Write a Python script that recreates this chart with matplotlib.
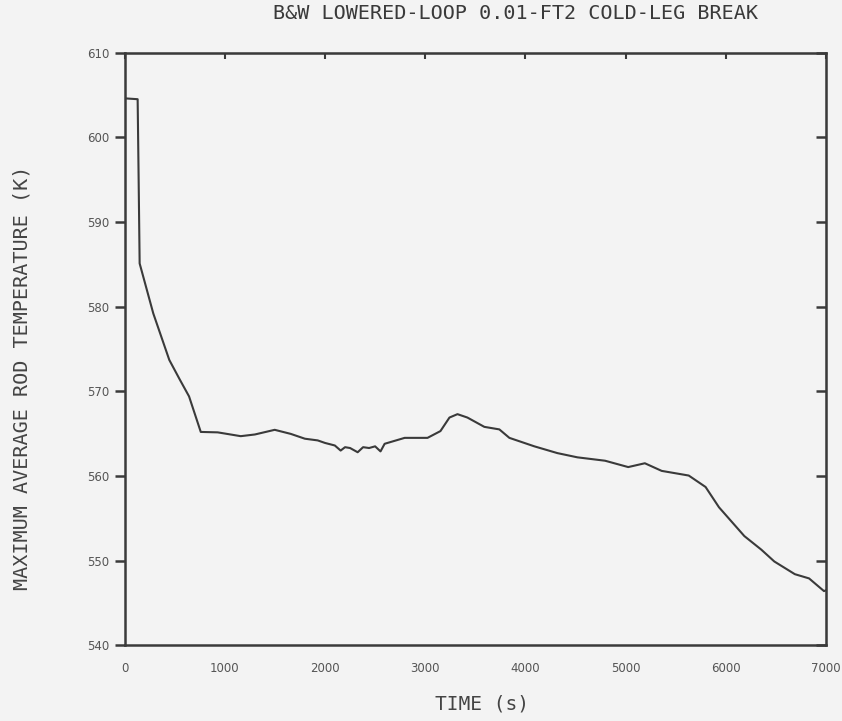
import matplotlib.pyplot as plt

# values
time_s = [0, 130, 140, 150, 286, 446, 550, 643, 760, 929, 1159, 1300, 1498,
          1658, 1799, 1927, 2000, 2098, 2156, 2200, 2250, 2326, 2380, 2440,
          2500, 2554, 2595, 2795, 3023, 3152, 3242, 3322, 3421, 3590, 3740,
          3840, 4089, 4319, 4519, 4795, 5026, 5192, 5360, 5630, 5798, 5932,
          6185, 6354, 6484, 6689, 6831, 6980, 7000]
temp_k = [604.6, 604.5, 595.0, 585.1, 579.2, 573.7, 571.4, 569.4, 565.2,
          565.15, 564.7, 564.9, 565.45, 564.97, 564.4, 564.2, 563.9, 563.6,
          563.0, 563.4, 563.3, 562.8, 563.4, 563.3, 563.5, 562.9, 563.8,
          564.5, 564.5, 565.3, 566.9, 567.3, 566.9, 565.8, 565.5, 564.5,
          563.5, 562.7, 562.2, 561.8, 561.05, 561.5, 560.6, 560.05, 558.7,
          556.3, 552.9, 551.3, 549.9, 548.4, 547.9, 546.4, 546.5]

x_ticks = [0, 1000, 2000, 3000, 4000, 5000, 6000, 7000]
x_labels = ['0', '1000', '2000', '3000', '4000', '5000', '6000', '7000']
y_ticks = [540, 550, 560, 570, 580, 590, 600, 610]

ink = '#3a3a3a'
paper = '#f3f3f3'
mono = 'DejaVu Sans Mono'

fig = plt.figure(figsize=(8.42, 7.21), dpi=100, facecolor=paper)
ax = fig.add_axes([0.148, 0.105, 0.833, 0.822], facecolor=paper)

ax.plot(time_s, temp_k, color=ink, lw=1.5)

ax.set_xlim(0, 7000)
ax.set_ylim(540, 610)

for s in ax.spines.values():
    s.set_color(ink)
    s.set_linewidth(1.8)

ax.set_xticks(x_ticks)
ax.set_xticklabels(x_labels)
ax.set_yticks(y_ticks)
ax.tick_params(axis='x', length=0, pad=12, labelsize=8.5, labelcolor='#555555')
ax.tick_params(axis='y', direction='out', length=7, width=1.8,
               color=ink, labelsize=8.5, labelcolor='#555555', pad=4)

# top axis: small inward ticks, no labels
ax_t = ax.secondary_xaxis('top')
ax_t.set_xticks(x_ticks)
ax_t.tick_params(direction='in', length=4, width=1.5, color=ink, labeltop=False)

# right axis: inward ticks, no labels
ax_r = ax.secondary_yaxis('right')
ax_r.set_yticks(y_ticks)
ax_r.tick_params(direction='in', length=7, width=1.8, color=ink, labelright=False)

fig.text(0.612, 0.981, 'B&W LOWERED-LOOP 0.01-FT2 COLD-LEG BREAK',
         ha='center', va='center', fontsize=14.5, color=ink, family=mono)
fig.text(0.573, 0.024, 'TIME (s)', ha='center', va='center',
         fontsize=14, color='#444444', family=mono)
fig.text(0.026, 0.476, 'MAXIMUM AVERAGE ROD TEMPERATURE (K)', ha='center',
         va='center', rotation=90, fontsize=14.5, color='#444444', family=mono)

fig.savefig('out.png', dpi=100, facecolor=paper)
